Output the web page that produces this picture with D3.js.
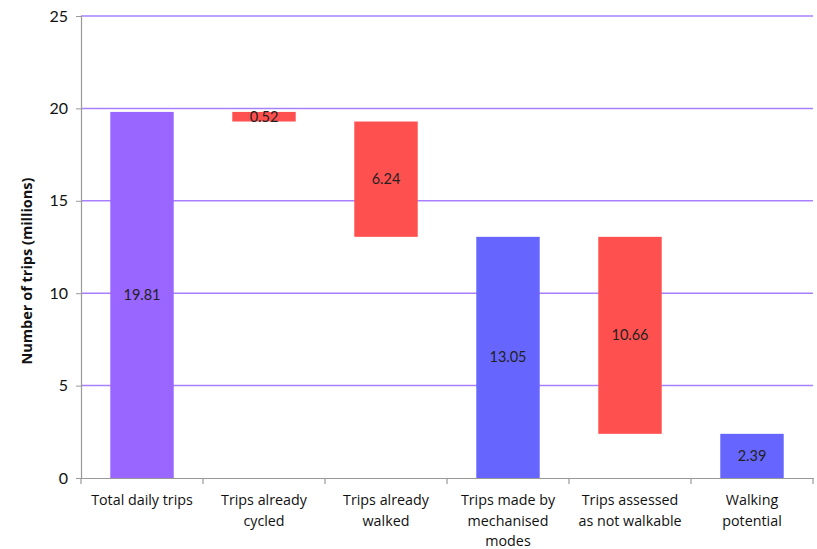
<!DOCTYPE html>
<html><head><meta charset="utf-8">
<script src="https://cdn.jsdelivr.net/npm/d3@7"></script>
<style>body{margin:0;background:#fff}svg{display:block}</style>
</head><body><svg id="c" width="817" height="549"></svg>
<script>
const categories = [["Total daily trips"],["Trips already","cycled"],["Trips already","walked"],["Trips made by","mechanised","modes"],["Trips assessed","as not walkable"],["Walking","potential"]];
const values = [19.81, 0.52, 6.24, 13.05, 10.66, 2.39];
const bases = [0, 19.29, 13.05, 0, 2.39, 0];
const kinds = ["total","decrease","decrease","blue","decrease","blue"];
const yTicks = [0,5,10,15,20,25];
const colors = {total:"#9966FF", decrease:"#FF5050", blue:"#6666FF"};

const svg = d3.select("#c");
const font = "'Open Sans', Lato, sans-serif";
const font2 = "Lato, 'Open Sans', sans-serif";
const m = {l:81, r:4, t:16, b:71};
const W = 817, H = 549;
const x = d3.scaleBand().domain(d3.range(categories.length)).range([m.l, W-m.r]).paddingInner(0.48).paddingOuter(0.24);
const xb = d3.scaleBand().domain(d3.range(categories.length)).range([m.l, W-m.r]);
const y = d3.scaleLinear().domain([0,25]).range([H-m.b, m.t]);

// gridlines
svg.append("g").selectAll("line").data(yTicks.filter(d=>d>0)).join("line")
  .attr("x1", m.l).attr("x2", W-m.r).attr("y1", d=>y(d)).attr("y2", d=>y(d))
  .attr("stroke", "#A880FF").attr("stroke-width", 1.5);

// y axis
const ya = svg.append("g").attr("transform", `translate(${m.l},0)`)
  .call(d3.axisLeft(y).tickValues(yTicks).tickSize(5).tickPadding(8));
ya.select(".domain").attr("stroke","#999").attr("stroke-width",1.2);
ya.selectAll(".tick line").attr("stroke","#999");
ya.selectAll("text").attr("font-family", font2).attr("font-size", 16).attr("fill","#111");

// x axis
const xa = svg.append("g").attr("transform", `translate(0,${y(0)})`)
  .call(d3.axisBottom(xb).tickSize(0).tickFormat(""));
xa.select(".domain").attr("stroke","#999").attr("stroke-width",1.2);
const bounds = d3.range(categories.length+1).map(i => i<categories.length ? xb(i) : xb(i-1)+xb.bandwidth());
xa.selectAll(".sep").data(bounds).join("line").attr("class","sep")
  .attr("x1", d=>d).attr("x2", d=>d).attr("y1",0).attr("y2",6).attr("stroke","#999").attr("stroke-width",1.2);

// category labels
const lbl = svg.append("g").selectAll("text").data(categories).join("text")
  .attr("x", (d,i)=>xb(i)+xb.bandwidth()/2).attr("y", y(0)+27)
  .attr("text-anchor","middle").attr("font-family", font).attr("font-size", 14.3).attr("fill","#111");
lbl.each(function(d){
  d3.select(this).selectAll("tspan").data(d).join("tspan")
    .attr("x", d3.select(this).attr("x")).attr("dy", (t,j)=> j===0?0:20.5).text(t=>t);
});

// bars
svg.append("g").selectAll("rect").data(values).join("rect")
  .attr("x", (d,i)=>x(i)).attr("width", x.bandwidth())
  .attr("y", (d,i)=>y(bases[i]+d)).attr("height", (d,i)=>y(bases[i])-y(bases[i]+d))
  .attr("fill", (d,i)=>colors[kinds[i]]);

// value labels
svg.append("g").selectAll("text").data(values).join("text")
  .attr("x", (d,i)=>x(i)+x.bandwidth()/2).attr("y", (d,i)=>y(bases[i]+d/2))
  .attr("dy","0.35em").attr("text-anchor","middle")
  .attr("font-family", font2).attr("font-size", 14.5).attr("fill","#222")
  .text(d=>d.toFixed(2));

// y title
svg.append("text").attr("transform", `translate(32,${(y(0)+y(25))/2+24}) rotate(-90)`)
  .attr("text-anchor","middle").attr("font-family", font).attr("font-size", 14.5).attr("font-weight","bold").attr("fill","#111")
  .text("Number of trips (millions)");
</script></body></html>
